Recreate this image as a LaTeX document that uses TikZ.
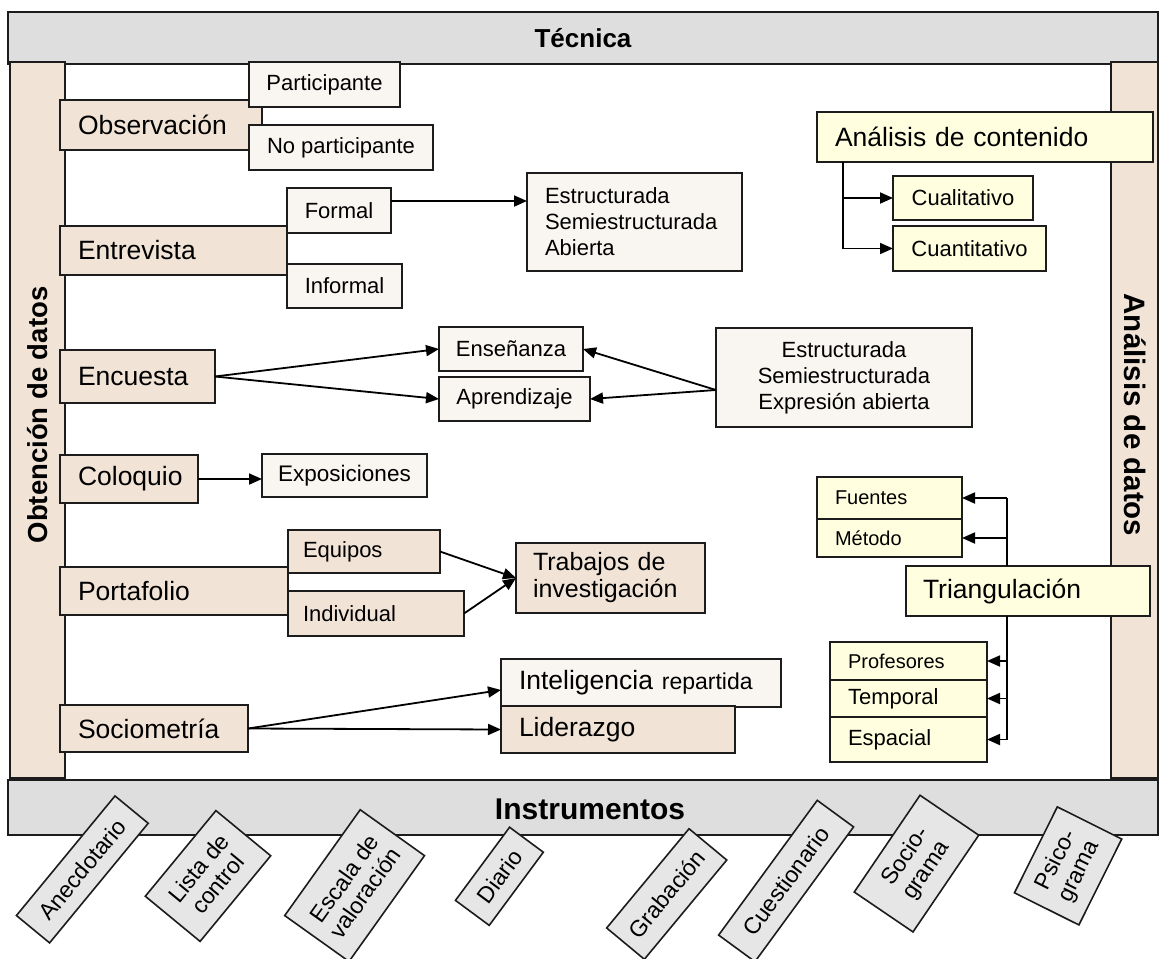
\documentclass[tikz,border=0pt]{standalone}
\usepackage{fontspec}
\setmainfont{Liberation Sans}
\usetikzlibrary{arrows.meta}

\definecolor{bandc}{HTML}{DEDEDE}
\definecolor{tanc}{HTML}{F1E3D6}
\definecolor{creamc}{HTML}{F9F5F1}
\definecolor{ylwc}{HTML}{FFFFE0}
\definecolor{instc}{HTML}{E6E6E6}
\definecolor{edgec}{HTML}{1C1C1C}

\begin{document}
\begin{tikzpicture}[x=1pt,y=-1pt,
  every node/.style={font=\fontsize{22}{26}\selectfont, inner sep=0pt, outer sep=0pt},
  wh/.style 2 args={minimum width=#1pt, minimum height=#2pt},
  frame/.style={draw=edgec, line width=1.6pt},
  tanbox/.style={frame, fill=tanc, anchor=north west},
  creambox/.style={frame, fill=creamc, anchor=north west},
  ylwbox/.style={frame, fill=ylwc, anchor=north west},
  instbox/.style={frame, fill=instc, align=center, font=\fontsize{23}{25}\selectfont},
  big/.style={font=\fontsize{26.5}{30}\selectfont},
  mid/.style={font=\fontsize{25}{27}\selectfont},
  small/.style={font=\fontsize{20}{24}\selectfont},
  bandtitle/.style={font=\bfseries\fontsize{#1}{30}\selectfont},
  conn/.style={line width=1.8pt, black},
  arr/.style={conn, -{Triangle[length=13pt,width=11pt]}},
]
% canvas
\fill[white] (0,0) rectangle (1160,959);
\useasboundingbox (0,0) rectangle (1160,959);

% frame bands
\node[frame, fill=bandc, anchor=north west, wh={1150}{52}, bandtitle=26] (tecband) at (8,12) {Técnica};
\node[frame, fill=tanc, anchor=north west, wh={55}{716}] (obtband) at (10,62) {};
\node[frame, fill=tanc, anchor=north west, wh={47}{716}] (anaband) at (1111,62) {};
\node[bandtitle=27.5, rotate=90] (obttit) at (38,415) {Obtención de datos};
\node[bandtitle=29.5, rotate=-90] (anatit) at (1135,415) {Análisis de datos};
\node[frame, fill=bandc, anchor=north west, wh={1150}{55}] (insband) at (8,780) {};
\node[bandtitle=30] (instit) at (590,809) {Instrumentos};

% observation
\node[tanbox, wh={202}{50}, text width=166pt, inner xsep=18pt, align=left, big] (obs) at (60,100) {Observación};
\node[creambox, wh={151}{45}] (part) at (249,62) {Participante};
\node[creambox, wh={184}{45}] (nopart) at (249,125) {No participante};

% interview
\node[tanbox, wh={227}{49}, text width=191pt, inner xsep=18pt, align=left, big] (entr) at (60,226) {Entrevista};
\node[creambox, wh={104}{45}] (formal) at (287,188) {Formal};
\node[creambox, wh={115}{44}] (informal) at (287,264) {Informal};
\node[creambox, wh={215}{98}, text width=179pt, inner xsep=18pt, align=left] (estr) at (527,173)
  {Estructurada\\Semiestructurada\\Abierta};

% survey
\node[tanbox, wh={155}{53}, text width=119pt, inner xsep=18pt, align=left, big] (encu) at (60,350) {Encuesta};
\node[creambox, wh={144}{44}] (ens) at (439,327) {Enseñanza};
\node[creambox, wh={151}{44}] (apr) at (439,377) {Aprendizaje};
\node[creambox, wh={256}{99}, align=center] (tipos) at (716,328)
  {Estructurada\\Semiestructurada\\Expresión abierta};

% colloquium
\node[tanbox, wh={138}{48}, text width=102pt, inner xsep=18pt, align=left, big] (colo) at (60,455) {Coloquio};
\node[creambox, wh={165}{43}, font=\fontsize{22.5}{26}\selectfont] (expo) at (262,454) {Exposiciones};

% portfolio
\node[tanbox, wh={228}{48}, text width=192pt, inner xsep=18pt, align=left, big] (port) at (60,567) {Portafolio};
\node[tanbox, wh={152}{43}, text width=122pt, inner xsep=15pt, align=left] (equi) at (288,530) {Equipos};
\node[tanbox, wh={176}{45}, text width=146pt, inner xsep=15pt, align=left] (indi) at (288,591) {Individual};
\node[tanbox, wh={189}{70}, text width=155pt, inner xsep=17pt, align=left, mid] (trab) at (516,543)
  {Trabajos de\\investigación};

% sociometry
\node[tanbox, wh={188}{47}, text width=152pt, inner xsep=18pt, align=left, big] (soci) at (60,705) {Sociometría};
\node[creambox, wh={262}{48}, text width=244pt, inner xsep=18pt, align=left, big] (inte) at (501,659)
  {Inteligencia {\fontsize{23}{26}\selectfont repartida}};
\node[tanbox, wh={216}{47}, text width=198pt, inner xsep=18pt, align=left, big] (lide) at (501,706) {Liderazgo};

% content analysis
\node[ylwbox, wh={318}{50}, text width=300pt, inner xsep=18pt, align=left, big] (anal) at (817,112) {Análisis de contenido};
\node[ylwbox, wh={140}{44}] (cual) at (893,176) {Cualitativo};
\node[ylwbox, wh={153}{45}] (cuan) at (893,226) {Cuantitativo};

% triangulation
\node[ylwbox, wh={127}{42}, text width=109pt, inner xsep=18pt, align=left, small] (fuen) at (817,477) {Fuentes};
\node[ylwbox, wh={127}{38}, text width=109pt, inner xsep=18pt, align=left, small] (meto) at (817,519) {Método};
\node[ylwbox, wh={227}{50}, text width=210pt, inner xsep=17pt, align=left, big] (tria) at (906,566) {Triangulación};
\node[ylwbox, wh={139}{38}, text width=121pt, inner xsep=18pt, align=left, small] (prof) at (830,642) {Profesores};
\node[ylwbox, wh={139}{37}, text width=121pt, inner xsep=18pt, align=left] (temp) at (830,680) {Temporal};
\node[ylwbox, wh={139}{45}, text width=121pt, inner xsep=18pt, align=left] (espa) at (830,717) {Espacial};

% helper levels for connectors
\coordinate (yf) at (0,201);
\coordinate (ty) at (0,390);
\coordinate (iy) at (0,690);
\coordinate (acx) at (843,0);
\coordinate (tx) at (1007,0);

% connectors
\draw[arr] (formal.east |- yf) -- (estr.west |- yf);
\draw[arr] (encu.east) -- (ens.west);
\draw[arr] (encu.east) -- (apr.west);
\draw[arr] (tipos.west |- ty) -- (ens.east);
\draw[arr] (tipos.west |- ty) -- (apr.east);
\draw[arr] (colo.east) -- (colo.east -| expo.west);
\draw[arr] (equi.east) -- (trab.west);
\draw[arr] (indi.east) -- (trab.west);
\draw[arr] (soci.east) -- (inte.west |- iy);
\draw[arr] (soci.east) -- (lide.west);

\draw[conn] (acx |- anal.south) -- (acx |- cuan.west);
\draw[arr] (acx |- cual.west) -- (cual.west);
\draw[arr] (acx |- cuan.west) -- (cuan.west);

\draw[conn] (tx |- tria.north) -- (tx |- fuen.east);
\draw[arr] (tx |- fuen.east) -- (fuen.east);
\draw[arr] (tx |- meto.east) -- (meto.east);
\draw[conn] (tx |- tria.south) -- (tx |- espa.east);
\draw[arr] (tx |- prof.east) -- (prof.east);
\draw[arr] (tx |- temp.east) -- (temp.east);
\draw[arr] (tx |- espa.east) -- (espa.east);

% instruments
\node[instbox, rotate=50.5, wh={155}{43}] (anec) at (82.3,869.4) {Anecdotario};
\node[instbox, rotate=50.5, wh={111}{71}] (lista) at (208,876) {Lista de\\control};
\node[instbox, rotate=54.5, wh={130}{79}] (esca) at (354.6,885.6) {Escala de\\valoración};
\node[instbox, rotate=53.5, wh={91}{42}] (diar) at (499.4,876.3) {Diario};
\node[instbox, rotate=50.3, wh={129}{49}] (grab) at (666.7,894) {Grabación};
\node[instbox, rotate=53.8, wh={167}{45}] (cues) at (786.1,881) {Cuestionario};
\node[instbox, rotate=55.8, wh={117}{71}] (sgram) at (916.5,863.6) {Socio-\\grama};
\node[instbox, rotate=63.5, wh={96}{72}] (pgram) at (1068.1,865.9) {Psico-\\grama};
\end{tikzpicture}
\end{document}
